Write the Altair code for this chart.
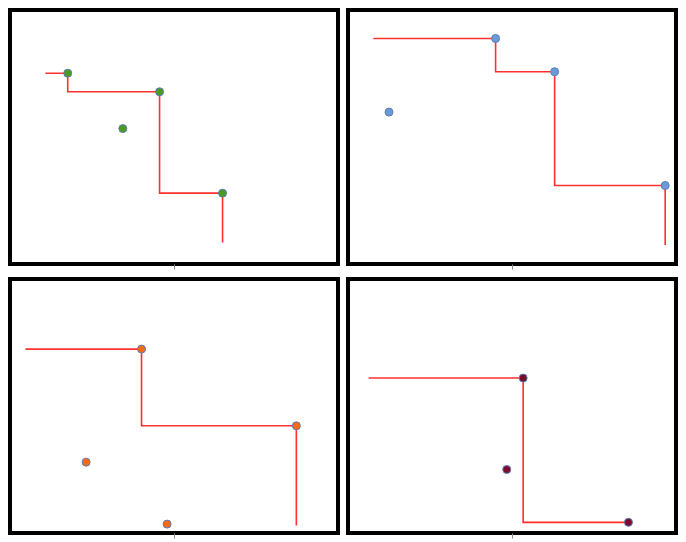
import altair as alt
import pandas as pd

# ---- data (units: 0-100 of each panel's plot area) ----
panel_fill = ["#4c9a22", "#6b9bd6", "#fb6a0e", "#7d0a2c"]

p1_front_x = [17.6, 45.6, 64.8]
p1_front_y = [75.1, 67.8, 27.9]
p1_other_x = [34.4]
p1_other_y = [53.3]
p1_start_x = 10.8
p1_end_y = 8.5

p2_front_x = [45.0, 63.0, 96.7]
p2_front_y = [88.8, 75.7, 30.9]
p2_other_x = [12.5]
p2_other_y = [59.8]
p2_start_x = 7.7
p2_end_y = 7.5

p3_front_x = [40.1, 87.3]
p3_front_y = [72.4, 42.2]
p3_other_x = [23.2, 47.9]
p3_other_y = [27.9, 3.5]
p3_start_x = 4.7
p3_end_y = 3.0

p4_front_x = [53.4, 85.5]
p4_front_y = [61.0, 4.2]
p4_other_x = [48.4]
p4_other_y = [25.0]
p4_start_x = 6.3
p4_end_y = 4.2

panels = [
    (p1_front_x, p1_front_y, p1_other_x, p1_other_y, p1_start_x, p1_end_y),
    (p2_front_x, p2_front_y, p2_other_x, p2_other_y, p2_start_x, p2_end_y),
    (p3_front_x, p3_front_y, p3_other_x, p3_other_y, p3_start_x, p3_end_y),
    (p4_front_x, p4_front_y, p4_other_x, p4_other_y, p4_start_x, p4_end_y),
]

W, H = 328, 254

xs = alt.Scale(domain=[0, 100], nice=False, zero=False)
ys = alt.Scale(domain=[0, 100], nice=False, zero=False)
xaxis = alt.Axis(values=[50], labels=False, domain=False, ticks=True,
                 tickSize=5, tickColor="#888888", grid=False, title=None)


def make_panel(k):
    fx, fy, ox, oy, sx, ey = panels[k]
    line_df = pd.DataFrame({
        "x": [sx] + fx + [fx[-1]],
        "y": [fy[0]] + fy + [ey],
        "i": list(range(len(fx) + 2)),
    })
    pts_df = pd.DataFrame({"x": fx + ox, "y": fy + oy})
    line = alt.Chart(line_df).mark_line(
        color="#ff3030", strokeWidth=1.6, interpolate="step-before"
    ).encode(
        x=alt.X("x:Q", scale=xs, axis=xaxis),
        y=alt.Y("y:Q", scale=ys, axis=None),
        order="i:Q",
    )
    pts = alt.Chart(pts_df).mark_circle(
        size=64, opacity=1, fill=panel_fill[k], stroke="#5a7db5", strokeWidth=1
    ).encode(
        x=alt.X("x:Q", scale=xs, axis=xaxis),
        y=alt.Y("y:Q", scale=ys, axis=None),
    )
    return alt.layer(line, pts).properties(width=W, height=H)


top = alt.hconcat(make_panel(0), make_panel(1), spacing=6)
bottom = alt.hconcat(make_panel(2), make_panel(3), spacing=6)
chart = alt.vconcat(top, bottom, spacing=5).properties(
    padding=0, background="white"
).configure_view(stroke="black", strokeWidth=4)

chart.save("out.html", embed_options={"renderer": "svg", "actions": False})
